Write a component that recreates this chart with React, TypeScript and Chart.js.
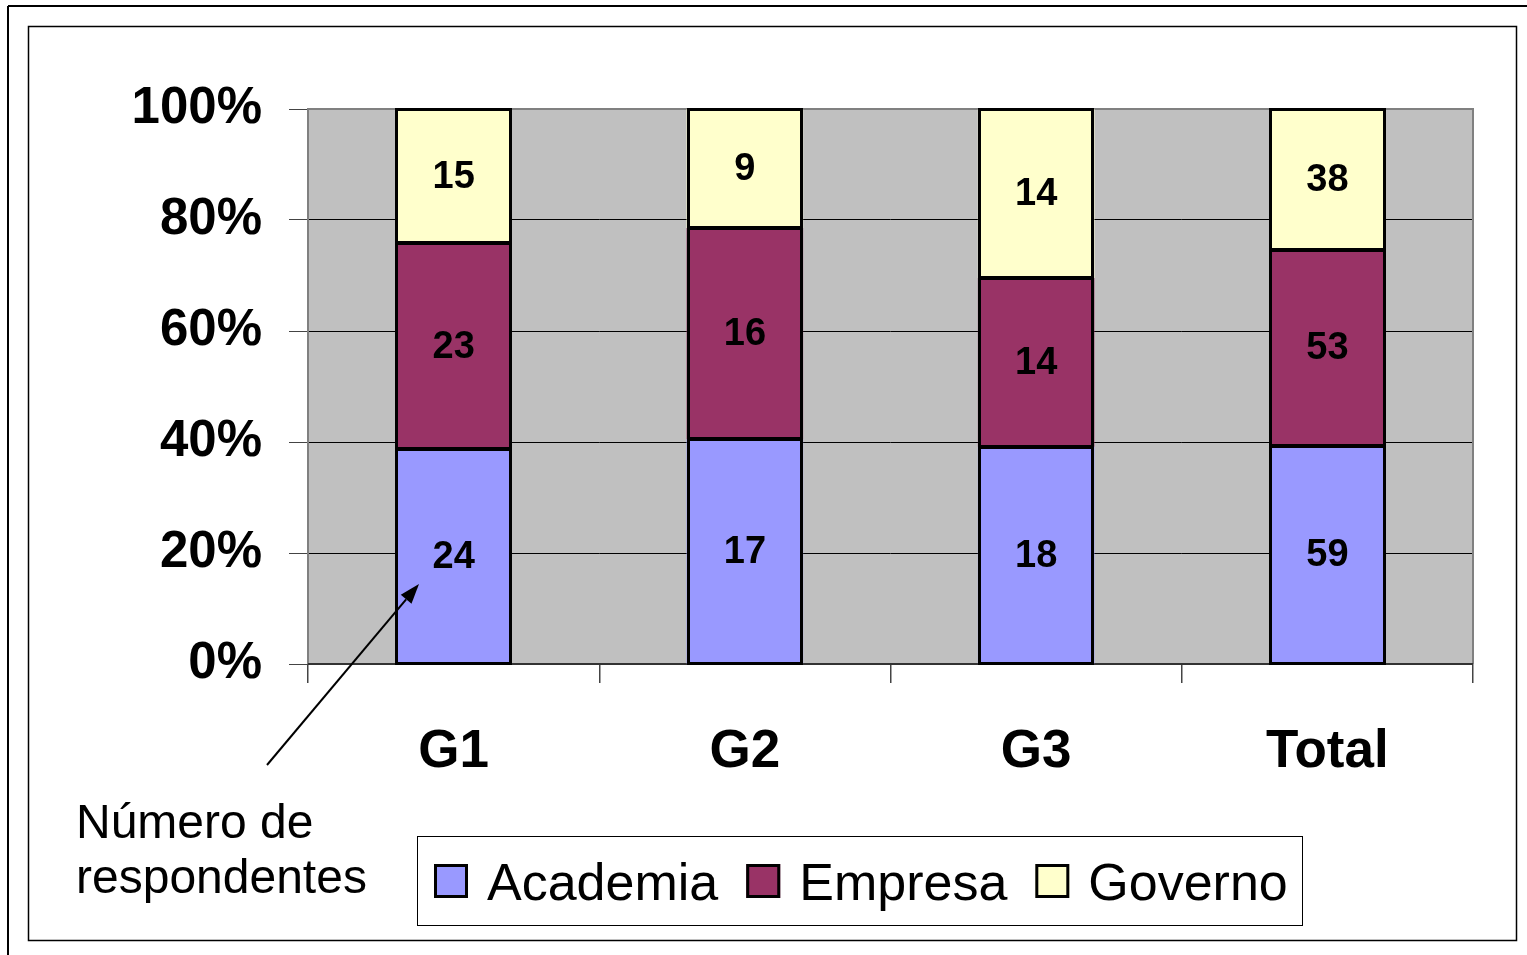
import React, { useEffect, useRef } from "react";
import { Chart, registerables } from "chart.js";

Chart.register(...registerables);

const categories = ["G1", "G2", "G3", "Total"];
const academia = [24, 17, 18, 59];
const empresa = [23, 16, 14, 53];
const governo = [15, 9, 14, 38];
const seriesNames = ["Academia", "Empresa", "Governo"];
const seriesColors = ["#9999FF", "#993366", "#FFFFCC"];
const yTickStep = 20;
const annotationLines = ["Número de", "respondentes"];

const FONT = '"Liberation Sans", Arial, Helvetica, sans-serif';

export default function App() {
  const canvasRef = useRef<HTMLCanvasElement | null>(null);

  useEffect(() => {
    const canvas = canvasRef.current;
    if (!canvas) return;
    const series = [academia, empresa, governo];
    const totals = categories.map((_, i) => series.reduce((s, arr) => s + arr[i], 0));

    const datasets = series.map((arr, k) => ({
      label: seriesNames[k],
      data: arr.map((v, i) => (v / totals[i]) * 100),
      counts: arr,
      backgroundColor: seriesColors[k],
      borderColor: "#000000",
      borderWidth: 0,
      barPercentage: 0.4,
      categoryPercentage: 1,
    }));

    const decor = {
      id: "decor",
      beforeDraw(chart: any) {
        const { ctx, chartArea } = chart;
        ctx.save();
        ctx.fillStyle = "#ffffff";
        ctx.fillRect(0, 0, chart.width, chart.height);
        ctx.strokeStyle = "#000";
        ctx.lineWidth = 2;
        ctx.beginPath();
        ctx.moveTo(8, 6);
        ctx.lineTo(chart.width, 6);
        ctx.moveTo(8, 6);
        ctx.lineTo(8, chart.height);
        ctx.stroke();
        ctx.lineWidth = 1.5;
        ctx.strokeRect(28.5, 26.5, 1488, 914);
        ctx.fillStyle = "#C0C0C0";
        ctx.fillRect(chartArea.left, chartArea.top, chartArea.right - chartArea.left, chartArea.bottom - chartArea.top);
        ctx.restore();
      },
      beforeDatasetsDraw(chart: any) {
        const { ctx, chartArea } = chart;
        ctx.save();
        ctx.strokeStyle = "#808080";
        ctx.lineWidth = 2;
        ctx.beginPath();
        ctx.moveTo(chartArea.left, chartArea.bottom);
        ctx.lineTo(chartArea.left, chartArea.top);
        ctx.lineTo(chartArea.right, chartArea.top);
        ctx.lineTo(chartArea.right, chartArea.bottom);
        ctx.stroke();
        ctx.strokeStyle = "#333";
        ctx.beginPath();
        ctx.moveTo(chartArea.left, chartArea.bottom);
        ctx.lineTo(chartArea.right, chartArea.bottom);
        ctx.stroke();
        ctx.restore();
      },
      afterDatasetsDraw(chart: any) {
        const { ctx } = chart;
        ctx.save();
        // segment outlines
        ctx.strokeStyle = "#000";
        ctx.lineWidth = 3;
        chart.data.datasets.forEach((_ds: any, di: number) => {
          const meta = chart.getDatasetMeta(di);
          meta.data.forEach((el: any) => {
            const left = Math.round(el.x - el.width / 2) + 1.5;
            const right = Math.round(el.x + el.width / 2) - 1.5;
            const top = Math.round(Math.min(el.y, el.base)) + 0.5;
            const bot = Math.round(Math.max(el.y, el.base)) - 0.5;
            ctx.strokeRect(left, top, right - left, bot - top);
          });
        });
        ctx.fillStyle = "#000";
        ctx.font = `bold 38px ${FONT}`;
        ctx.textAlign = "center";
        ctx.textBaseline = "middle";
        chart.data.datasets.forEach((ds: any, di: number) => {
          const meta = chart.getDatasetMeta(di);
          meta.data.forEach((el: any, i: number) => {
            const cy = (el.y + el.base) / 2;
            ctx.fillText(String(ds.counts[i]), el.x, cy + 1);
          });
        });
        ctx.restore();
      },
      afterDraw(chart: any) {
        const { ctx } = chart;
        ctx.save();
        ctx.strokeStyle = "#000";
        ctx.lineWidth = 1;
        ctx.strokeRect(417.5, 836.5, 885, 89);
        ctx.font = `52px ${FONT}`;
        ctx.textBaseline = "alphabetic";
        ctx.textAlign = "left";
        let x = 434;
        chart.data.datasets.forEach((ds: any) => {
          ctx.fillStyle = ds.backgroundColor;
          ctx.fillRect(x, 864, 34, 34);
          ctx.lineWidth = 3;
          ctx.strokeStyle = "#000";
          ctx.strokeRect(x + 1.5, 865.5, 31, 31);
          ctx.fillStyle = "#000";
          ctx.fillText(ds.label, x + 53, 900);
          x += 53 + ctx.measureText(ds.label).width + 28;
        });
        ctx.font = `48px ${FONT}`;
        ctx.fillStyle = "#000";
        ctx.fillText(annotationLines[0], 76, 838);
        ctx.fillText(annotationLines[1], 76, 893);
        const x0 = 267, y0 = 765, x1 = 419, y1 = 584;
        const ang = Math.atan2(y1 - y0, x1 - x0);
        const hl = 20, hw = 7;
        const bx = x1 - hl * Math.cos(ang), by = y1 - hl * Math.sin(ang);
        ctx.strokeStyle = "#000";
        ctx.lineWidth = 2;
        ctx.beginPath();
        ctx.moveTo(x0, y0);
        ctx.lineTo(bx, by);
        ctx.stroke();
        ctx.beginPath();
        ctx.moveTo(x1, y1);
        ctx.lineTo(bx + hw * Math.sin(ang), by - hw * Math.cos(ang));
        ctx.lineTo(bx - hw * Math.sin(ang), by + hw * Math.cos(ang));
        ctx.closePath();
        ctx.fill();
        ctx.restore();
      },
    };

    const chart = new Chart(canvas, {
      type: "bar",
      data: { labels: categories, datasets: datasets as any },
      options: {
        responsive: false,
        animation: false,
        devicePixelRatio: 1,
        layout: { padding: { left: 0, top: 109, right: 54, bottom: 0 } },
        plugins: { legend: { display: false }, tooltip: { enabled: false } },
        scales: {
          x: {
            stacked: true,
            grid: {
              offset: true,
              drawOnChartArea: false,
              drawTicks: true,
              tickLength: 19,
              tickColor: "#444",
              lineWidth: 1.5,
            },
            border: { display: false },
            ticks: {
              color: "#000",
              font: { family: FONT, size: 53, weight: "bold" },
              padding: 38,
              maxRotation: 0,
            },
            afterFit(scale: any) {
              scale.height = 291;
            },
          },
          y: {
            stacked: true,
            min: 0,
            max: 100,
            grid: {
              color: "#000",
              lineWidth: 1,
              tickLength: 19,
              tickColor: "#444",
            },
            border: { display: false },
            ticks: {
              stepSize: yTickStep,
              color: "#000",
              font: { family: FONT, size: 51, weight: "bold" },
              padding: 27,
              callback: (v: any) => `${v}%`,
            },
            afterFit(scale: any) {
              scale.width = 308;
            },
          },
        },
      },
      plugins: [decor],
    });

    return () => chart.destroy();
  }, []);

  return (
    <div style={{ position: "fixed", left: 0, top: 0, width: 1527, height: 955, background: "#fff" }}>
      <canvas ref={canvasRef} width={1527} height={955} style={{ display: "block" }} />
    </div>
  );
}
